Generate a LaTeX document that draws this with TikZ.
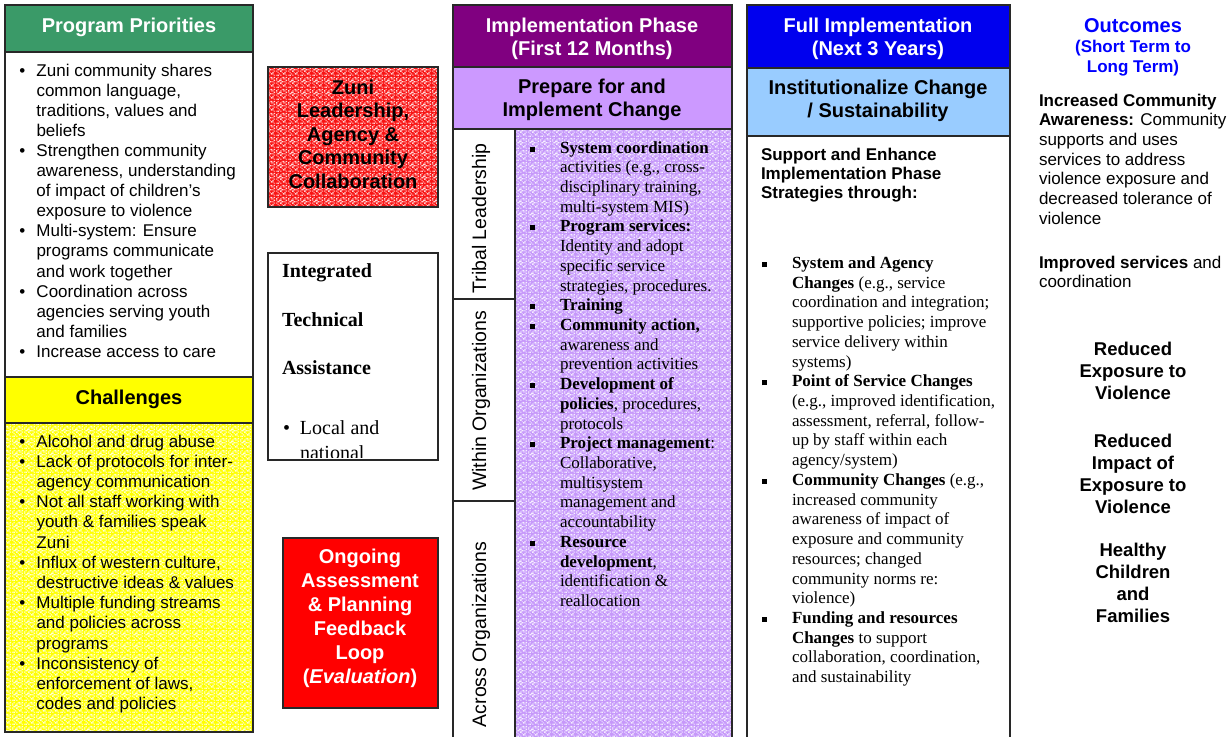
\documentclass[tikz,border=0pt]{standalone}
\usepackage{fontspec}
\setmainfont{Liberation Serif}
\setsansfont{Liberation Sans}
\usetikzlibrary{patterns}

\definecolor{ppgreen}{RGB}{58,154,104}
\definecolor{chyellow}{RGB}{255,255,0}
\definecolor{yelA}{RGB}{255,255,150}
\definecolor{yelB}{RGB}{255,255,215}
\definecolor{phdark}{RGB}{128,0,128}
\definecolor{phlight}{RGB}{204,153,255}
\definecolor{purbase}{RGB}{198,152,250}
\definecolor{purA}{RGB}{222,198,255}
\definecolor{purB}{RGB}{246,238,255}
\definecolor{fidark}{RGB}{0,0,238}
\definecolor{filight}{RGB}{153,204,255}
\definecolor{outblue}{RGB}{0,0,255}
\definecolor{zred}{RGB}{248,20,20}
\definecolor{zredA}{RGB}{255,125,125}
\definecolor{zredB}{RGB}{255,215,215}
\definecolor{linegray}{RGB}{40,40,40}

% speckled fill: two sparse pixel grids laid over a base colour
\newcommand\nzcell[2]{\pgfpathrectangle{\pgfpoint{#1*1.5pt}{#2*1.5pt}}{\pgfpoint{1.5pt}{1.5pt}}}
\pgfdeclarepatternformonly{noiseA}{\pgfpointorigin}{\pgfqpoint{12pt}{12pt}}{\pgfqpoint{12pt}{12pt}}{%
  \nzcell{0}{0}\nzcell{3}{0}\nzcell{7}{0}\nzcell{2}{1}\nzcell{6}{1}\nzcell{1}{2}%
  \nzcell{4}{2}\nzcell{0}{3}\nzcell{7}{3}\nzcell{2}{4}\nzcell{5}{4}\nzcell{6}{4}%
  \nzcell{0}{5}\nzcell{3}{6}\nzcell{5}{6}\nzcell{6}{6}\nzcell{1}{7}\nzcell{4}{7}%
  \pgfusepath{fill}}
\pgfdeclarepatternformonly{noiseB}{\pgfpointorigin}{\pgfqpoint{12pt}{12pt}}{\pgfqpoint{12pt}{12pt}}{%
  \nzcell{1}{0}\nzcell{5}{1}\nzcell{3}{3}\nzcell{6}{2}\nzcell{2}{5}\nzcell{4}{4}%
  \nzcell{7}{5}\nzcell{1}{4}\nzcell{5}{7}\nzcell{3}{5}\nzcell{7}{7}\nzcell{0}{6}%
  \pgfusepath{fill}}

% multi-line blocks whose baseline is that of their first line
\newcommand\mlL[1]{\begin{tabular}[t]{@{}l@{}}#1\end{tabular}}
\newcommand\mlC[1]{\begin{tabular}[t]{@{}c@{}}#1\end{tabular}}
% list helpers
\newcommand\cbul{\makebox[17pt][l]{\textbullet}}
\newcommand\cind{\makebox[17pt]{}}
\newcommand\sqbul{\makebox[30pt][l]{\rule[1.5pt]{5pt}{5pt}}}
\newcommand\sqind{\makebox[30pt]{}}

\begin{document}
\begin{tikzpicture}[x=1pt,y=-1pt,
  frame/.style={draw=linegray, line width=1.2pt},
  rectbox/.style 2 args={anchor=north west, minimum width=#1pt, minimum height=#2pt,
    inner sep=0pt, outer sep=0pt},
  texture/.style n args={3}{preaction={fill=#1},
    preaction={pattern=noiseA, pattern color=#2},
    preaction={pattern=noiseB, pattern color=#3}},
  txt/.style={inner sep=0pt, outer sep=0pt},
  hdr/.style={txt, anchor=base, font=\sffamily\bfseries\fontsize{20}{23.5}\selectfont},
  sanslist/.style={txt, anchor=base west, font=\sffamily\fontsize{17}{#1}\selectfont},
  seriflist/.style={txt, anchor=base west, font=\rmfamily\fontsize{17}{19.72}\selectfont},
  outcome/.style={txt, anchor=base, font=\sffamily\bfseries\fontsize{18.5}{22}\selectfont},
  sidelabel/.style={txt, anchor=base, rotate=90, font=\sffamily\fontsize{19.5}{22}\selectfont}]

\useasboundingbox (0,0) rectangle (1230,736);
\fill[white] (0,0) rectangle (1230,736);

% ---------- Program priorities / challenges ----------
\node[frame, fill=ppgreen, rectbox={248}{47}] (pphead) at (5,5) {};
\node[frame, fill=white, rectbox={248}{325}] (ppbody) at (5,52) {};
\node[frame, fill=chyellow, rectbox={248}{46}] (chhead) at (5,377) {};
\node[frame, texture={chyellow}{yelA}{yelB}, rectbox={248}{309}] (chbody) at (5,423) {};

\node[hdr, text=white] (pptitle) at (129,32) {Program Priorities};
\node[hdr] (chtitle) at (129,404) {Challenges};

\node[sanslist=20.1] (pplist) at (19.5,76) {\mlL{%
\cbul Zuni community shares\\
\cind common language,\\
\cind traditions, values and\\
\cind beliefs\\
\cbul Strengthen community\\
\cind awareness, understanding\\
\cind of impact of children’s\\
\cind exposure to violence\\
\cbul Multi-system: Ensure\\
\cind programs communicate\\
\cind and work together\\
\cbul Coordination across\\
\cind agencies serving youth\\
\cind and families\\
\cbul Increase access to care}};

\node[sanslist=20.2] (chlist) at (19.5,447) {\mlL{%
\cbul Alcohol and drug abuse\\
\cbul Lack of protocols for inter-\\
\cind agency communication\\
\cbul Not all staff working with\\
\cind youth \& families speak\\
\cind Zuni\\
\cbul Influx of western culture,\\
\cind destructive ideas \& values\\
\cbul Multiple funding streams\\
\cind and policies across\\
\cind programs\\
\cbul Inconsistency of\\
\cind enforcement of laws,\\
\cind codes and policies}};

% ---------- middle boxes ----------
\node[frame, texture={zred}{zredA}{zredB}, rectbox={170}{140}] (zuni) at (268,67) {};
\node[hdr, font=\sffamily\bfseries\fontsize{20}{23.6}\selectfont] (zunitext) at (353,94)
  {\mlC{Zuni\\Leadership,\\Agency \&\\Community\\Collaboration}};

\node[frame, fill=white, rectbox={170}{207}] (ita) at (268,253) {};
\begin{scope}
  \clip (269,254) rectangle (437,457.5);
  \node[txt, anchor=base west, font=\rmfamily\bfseries\fontsize{20}{48.5}\selectfont]
    (itatitle) at (282,277.5) {\mlL{Integrated\\Technical\\Assistance}};
  \node[txt, anchor=base west, font=\rmfamily\fontsize{20}{25}\selectfont]
    (itabul) at (283,434) {\mlL{\makebox[17pt][l]{\textbullet}Local and\\\makebox[17pt]{}national}};
\end{scope}

\node[frame, fill=red, rectbox={155}{170}] (loop) at (283,538) {};
\node[hdr, text=white, font=\sffamily\bfseries\fontsize{20}{24}\selectfont] (looptext) at (360,563)
  {\mlC{Ongoing\\Assessment\\\& Planning\\Feedback\\Loop\\(\textit{Evaluation})}};

% ---------- implementation phase ----------
\node[frame, fill=phdark, rectbox={279}{62}] (phhead) at (453,5) {};
\node[frame, fill=phlight, rectbox={279}{62}] (phsub) at (453,67) {};
\node[frame, fill=white, rectbox={62}{170}] (rowtribal) at (453,129) {};
\node[frame, fill=white, rectbox={62}{202}] (rowwithin) at (453,299) {};
\node[frame, fill=white, rectbox={62}{250}] (rowacross) at (453,501) {};
\node[frame, texture={purbase}{purA}{purB}, rectbox={217}{622}] (phbody) at (515,129) {};

\node[hdr, text=white] (phtitle) at (592,32) {\mlC{Implementation Phase\\(First 12 Months)}};
\node[hdr] (phsubtitle) at (592,93) {\mlC{Prepare for and\\Implement Change}};

\node[sidelabel] (lbltribal) at (486,218.5) {Tribal Leadership};
\node[sidelabel] (lblwithin) at (486,401) {Within Organizations};
\node[sidelabel] (lblacross) at (486,634.5) {Across Organizations};

\node[seriflist] (phlist) at (530,153) {\mlL{%
\sqbul\textbf{System coordination}\\
\sqind activities (e.g., cross-\\
\sqind disciplinary training,\\
\sqind multi-system MIS)\\
\sqbul\textbf{Program services:}\\
\sqind Identity and adopt\\
\sqind specific service\\
\sqind strategies, procedures.\\
\sqbul\textbf{Training}\\
\sqbul\textbf{Community action,}\\
\sqind awareness and\\
\sqind prevention activities\\
\sqbul\textbf{Development of}\\
\sqind\textbf{policies}, procedures,\\
\sqind protocols\\
\sqbul\textbf{Project management}:\\
\sqind Collaborative,\\
\sqind multisystem\\
\sqind management and\\
\sqind accountability\\
\sqbul\textbf{Resource}\\
\sqind\textbf{development},\\
\sqind identification \&\\
\sqind reallocation}};

% ---------- full implementation ----------
\node[frame, fill=fidark, rectbox={263}{63}] (fihead) at (747,5) {};
\node[frame, fill=filight, rectbox={263}{68}] (fisub) at (747,68) {};
\node[frame, fill=white, rectbox={263}{620}] (fibody) at (747,136) {};

\node[hdr, text=white] (fititle) at (878,32) {\mlC{Full Implementation\\(Next 3 Years)}};
\node[hdr] (fisubtitle) at (878,94) {\mlC{Institutionalize Change\\/ Sustainability}};

\node[txt, anchor=base west, font=\sffamily\bfseries\fontsize{17}{19.3}\selectfont]
  (fiintro) at (761,160) {\mlL{Support and Enhance\\Implementation Phase\\Strategies through:}};

\node[seriflist] (filist) at (762,268.5) {\mlL{%
\sqbul\textbf{System and Agency}\\
\sqind\textbf{Changes} (e.g., service\\
\sqind coordination and integration;\\
\sqind supportive policies; improve\\
\sqind service delivery within\\
\sqind systems)\\
\sqbul\textbf{Point of Service Changes}\\
\sqind (e.g., improved identification,\\
\sqind assessment, referral, follow-\\
\sqind up by staff within each\\
\sqind agency/system)\\
\sqbul\textbf{Community Changes} (e.g.,\\
\sqind increased community\\
\sqind awareness of impact of\\
\sqind exposure and community\\
\sqind resources; changed\\
\sqind community norms re:\\
\sqind violence)\\
\sqbul\textbf{Funding and resources}\\
\sqind\textbf{Changes} to support\\
\sqind collaboration, coordination,\\
\sqind and sustainability}};

% ---------- outcomes ----------
\node[hdr, text=outblue] (outtitle) at (1133,32) {Outcomes};
\node[txt, anchor=base, text=outblue, font=\sffamily\bfseries\fontsize{17}{20}\selectfont]
  (outsub) at (1133,52) {\mlC{(Short Term to\\Long Term)}};

\node[sanslist=19.7] (outaware) at (1039,106) {\mlL{%
\textbf{Increased Community}\\
\textbf{Awareness:} Community\\
supports and uses\\
services to address\\
violence exposure and\\
decreased tolerance of\\
violence}};
\node[sanslist=19.7] (outserv) at (1039,268) {\mlL{\textbf{Improved services} and\\coordination}};

\node[outcome] (outexp) at (1133,355) {\mlC{Reduced\\Exposure to\\Violence}};
\node[outcome] (outimp) at (1133,447) {\mlC{Reduced\\Impact of\\Exposure to\\Violence}};
\node[outcome] (outhealth) at (1133,556) {\mlC{Healthy\\Children\\and\\Families}};

\end{tikzpicture}
\end{document}
